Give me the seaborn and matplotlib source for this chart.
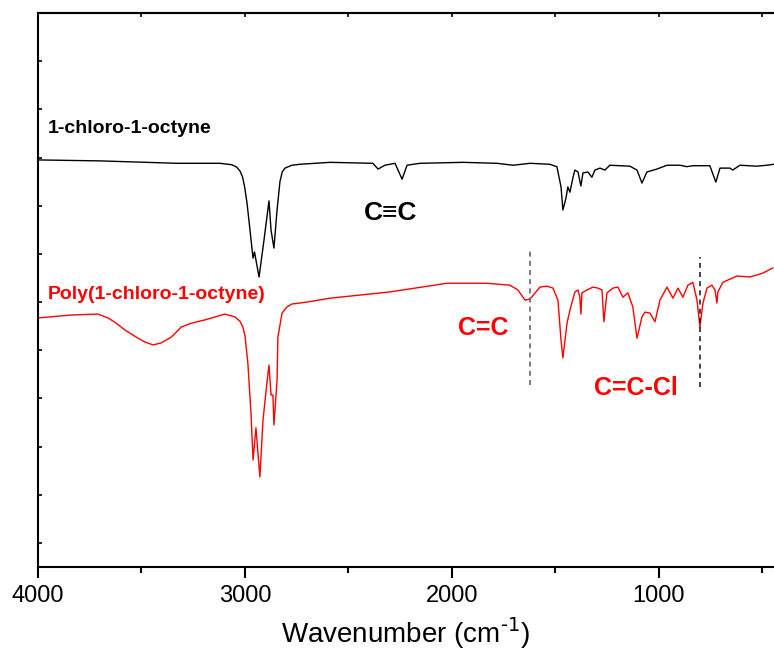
import matplotlib
matplotlib.use("Agg")
import matplotlib.pyplot as plt
import seaborn as sns
import pandas as pd
import numpy as np

# ---- data (wavenumber cm-1, transmittance in arbitrary offset units) ----
mono_wn = [4000, 3700, 3328, 3121, 3063, 3040, 3024, 3012, 3002, 2990, 2981, 2961,
           2954, 2932, 2908, 2884, 2874, 2860, 2845, 2831, 2820, 2807, 2773, 2734,
           2589, 2382, 2357, 2324, 2275, 2241, 2217, 2155, 1947, 1783, 1705, 1623,
           1527, 1493, 1473, 1464, 1449, 1440, 1430, 1415, 1406, 1391, 1377, 1367,
           1343, 1324, 1309, 1285, 1261, 1237, 1140, 1106, 1082, 1058, 1010, 961,
           899, 865, 836, 754, 725, 705, 657, 643, 609, 527, 478, 444]
mono_t = [7.95, 7.93, 7.88, 7.88, 7.85, 7.80, 7.72, 7.60, 7.40, 7.05, 6.70, 5.91,
          6.04, 5.52, 6.29, 7.10, 6.49, 6.12, 6.91, 7.50, 7.70, 7.78, 7.84, 7.86,
          7.90, 7.88, 7.76, 7.84, 7.88, 7.55, 7.84, 7.88, 7.90, 7.88, 7.84, 7.88,
          7.86, 7.81, 7.39, 6.91, 7.16, 7.39, 7.28, 7.59, 7.74, 7.70, 7.41, 7.68,
          7.70, 7.59, 7.74, 7.78, 7.74, 7.84, 7.82, 7.74, 7.47, 7.70, 7.76, 7.84,
          7.84, 7.81, 7.83, 7.83, 7.49, 7.78, 7.78, 7.74, 7.84, 7.82, 7.84, 7.86]

poly_wn = [4000, 3841, 3710, 3662, 3628, 3580, 3517, 3483, 3444, 3406, 3381, 3357,
           3333, 3309, 3260, 3193, 3145, 3097, 3048, 3024, 3010, 3000, 2986, 2971,
           2961, 2947, 2928, 2913, 2894, 2884, 2874, 2865, 2860, 2845, 2841, 2821,
           2797, 2773, 2734, 2700, 2589, 2300, 2024, 1831, 1720, 1681, 1647, 1623,
           1575, 1541, 1512, 1488, 1473, 1464, 1444, 1430, 1406, 1391, 1382, 1377,
           1372, 1348, 1319, 1295, 1275, 1266, 1251, 1222, 1198, 1174, 1150, 1126,
           1106, 1082, 1068, 1043, 1019, 995, 961, 932, 908, 884, 860, 836, 816, 802,
           787, 768, 744, 729, 720, 715, 691, 623, 560, 498, 449]
poly_t = [4.67, 4.73, 4.75, 4.67, 4.58, 4.42, 4.25, 4.17, 4.11, 4.15, 4.21, 4.27,
          4.37, 4.48, 4.56, 4.63, 4.69, 4.75, 4.69, 4.60, 4.48, 4.30, 3.73, 2.70,
          1.72, 2.39, 1.37, 2.55, 3.32, 3.69, 3.07, 3.07, 2.45, 3.38, 4.27, 4.77,
          4.90, 4.96, 4.98, 5.00, 5.08, 5.21, 5.39, 5.39, 5.35, 5.25, 5.04, 5.06,
          5.31, 5.33, 5.29, 5.04, 4.21, 3.84, 4.56, 4.83, 5.21, 5.25, 5.10, 4.75,
          5.19, 5.25, 5.31, 5.29, 5.25, 4.59, 5.19, 5.29, 5.31, 5.10, 5.19, 4.90,
          4.25, 4.69, 4.79, 4.77, 4.59, 5.04, 5.31, 5.08, 5.29, 5.10, 5.35, 5.41, 5.04,
          4.48, 4.98, 5.29, 5.35, 5.25, 4.98, 5.21, 5.41, 5.54, 5.52, 5.60, 5.71]

marker_wn = [1623, 802]
marker_top = [6.08, 5.93]
marker_bottom = [3.28, 3.24]

xticks = [4000, 3000, 2000, 1000]

sns.set_style("ticks")
plt.rcParams['font.family'] = ['Liberation Sans', 'DejaVu Sans']
plt.rcParams['text.color'] = 'black'
plt.rcParams['axes.labelcolor'] = 'black'
plt.rcParams['xtick.color'] = 'black'
plt.rcParams['ytick.color'] = 'black'

fig = plt.figure(figsize=(7.74, 6.57), dpi=100)
ax = fig.add_axes([38/774, 90/657, 736/774, 554/657])

mono = pd.DataFrame({"wn": mono_wn, "t": mono_t})
poly = pd.DataFrame({"wn": poly_wn, "t": poly_t})
sns.lineplot(data=mono, x="wn", y="t", sort=False, estimator=None, color="black",
             lw=1.0, ax=ax)
sns.lineplot(data=poly, x="wn", y="t", sort=False, estimator=None, color="#ff0000",
             lw=1.0, ax=ax)

ax.vlines(marker_wn[0], marker_bottom[0], marker_top[0], colors="#666666",
          linestyles=(0, (3, 2.5)), lw=1.2)
ax.vlines(marker_wn[1], marker_bottom[1], marker_top[1], colors="#222222",
          linestyles=(0, (3, 2.5)), lw=1.2)

ax.set_xlim(4000, 444)
ax.set_ylim(-0.5, 11.0)
ax.set_xticks(xticks)
ax.set_xticks([3500, 2500, 1500, 500], minor=True)
ax.set_yticks(range(0, 11))
ax.set_yticklabels([])
ax.tick_params(axis="x", which="major", direction="out", length=8, width=1.5,
               labelsize=17, pad=5, top=False, colors="black")
ax.tick_params(axis="x", which="minor", direction="out", length=4.5, width=1.5,
               top=False, colors="black")
ax.tick_params(axis="y", which="major", direction="in", length=3, width=1.2,
               colors="black")
for s in ["left", "bottom", "top"]:
    ax.spines[s].set_linewidth(1.5)
    ax.spines[s].set_color("black")
ax.spines["right"].set_visible(False)
top = ax.secondary_xaxis("top")
top.set_xticks([3500, 3000, 2500, 2000, 1500, 1000, 500], labels=[])
top.tick_params(direction="in", length=3, width=1.2, colors="black")
top.spines["top"].set_linewidth(1.5)

ax.set_xlabel("Wavenumber (cm$^{\\text{-1}}$)", fontsize=20, labelpad=6,
              color="black")
ax.set_ylabel("")

ax.text(3952, 8.61, "1-chloro-1-octyne", fontsize=14, fontweight="bold",
        color="black", ha="left", va="center")
ax.text(3952, 5.15, "Poly(1-chloro-1-octyne)", fontsize=14, fontweight="bold",
        color="#ff0000", ha="left", va="center")
ax.text(2299, 6.85, "C\u2261C", fontsize=19, fontweight="bold", color="black",
        ha="center", va="center")
ax.text(1850, 4.46, "C=C", fontsize=18, fontweight="bold", color="#ff0000",
        ha="center", va="center")
ax.text(1111, 3.22, "C=C-Cl", fontsize=18, fontweight="bold", color="#ff0000",
        ha="center", va="center")

fig.savefig("out.png", dpi=100)
